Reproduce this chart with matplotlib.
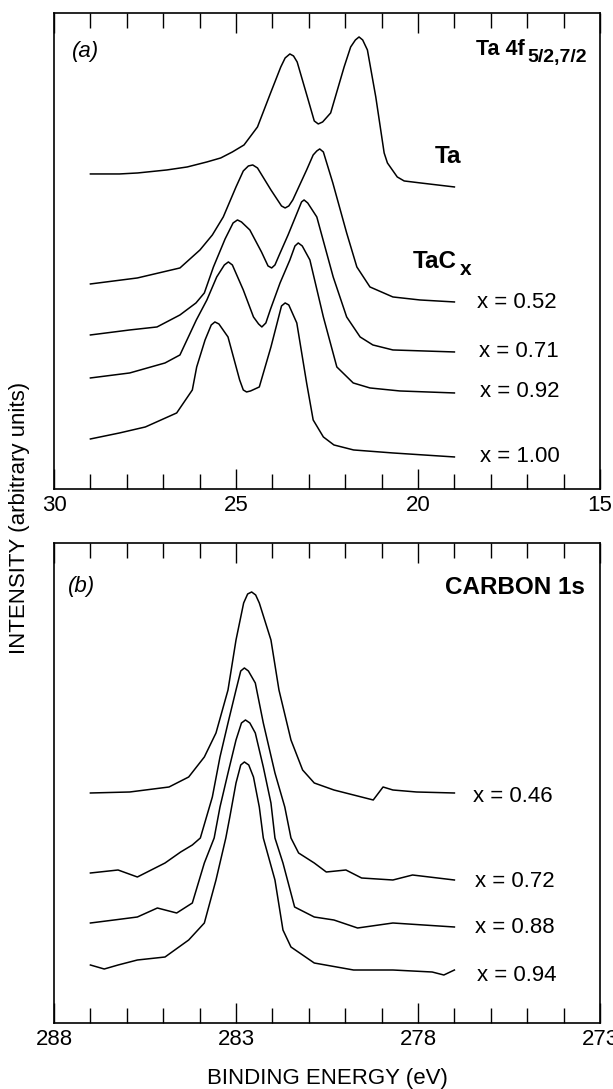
import matplotlib
matplotlib.use("Agg")
import matplotlib.pyplot as plt
from matplotlib.ticker import FixedLocator, MultipleLocator

plt.rcParams["font.family"] = ["Liberation Sans", "DejaVu Sans"]

# ── (a) Ta 4f : binding energy (eV) / intensity (arb.) ──────────────────
TA_E = [29.0, 28.2, 27.7, 26.9, 26.34, 25.8, 25.42, 25.1, 24.78, 24.41, 24.05,
        23.77, 23.65, 23.52, 23.42, 23.32, 23.04, 22.85, 22.74, 22.62, 22.40,
        22.03, 21.85, 21.72, 21.62, 21.52, 21.39, 21.16, 20.93, 20.84, 20.57,
        20.38, 19.93, 19.0]
TA_I = [315, 315, 316, 319, 322, 327, 331, 337, 344, 362, 396,
        422, 431, 435, 433, 427, 392, 368, 365, 367, 376,
        422, 442, 449, 452, 449, 439, 392, 336, 326, 312,
        308, 306, 302]

X052_E = [29.0, 27.71, 26.54, 25.99, 25.65, 25.35, 25.0, 24.8, 24.66, 24.54,
          24.41, 24.04, 23.75, 23.65, 23.55, 23.44, 23.06, 22.88, 22.78, 22.7,
          22.6, 22.34, 21.96, 21.68, 21.32, 20.69, 19.95, 19.0]
X052_I = [205, 211, 221, 239, 254, 272, 302, 318, 323, 324,
          321, 299, 283, 281, 283, 289, 319, 334, 338, 340,
          337, 306, 256, 222, 202, 192, 189, 187]

X071_E = [29.0, 27.92, 27.17, 26.54, 26.1, 25.87, 25.62, 25.3, 25.08, 24.96,
          24.85, 24.62, 24.3, 24.12, 24.02, 23.93, 23.8, 23.57, 23.3, 23.2,
          23.13, 23.03, 22.78, 22.33, 21.96, 21.59, 21.24, 20.69, 19.0]
X071_I = [154, 159, 162, 174, 186, 196, 222, 250, 266, 269,
          267, 259, 237, 223, 221, 224, 235, 254, 278, 287,
          289, 286, 272, 212, 172, 152, 144, 139, 137]

X092_E = [29.0, 27.92, 26.95, 26.54, 26.09, 25.8, 25.53, 25.32, 25.21, 25.1,
          24.8, 24.52, 24.38, 24.29, 24.18, 24.05, 23.79, 23.52, 23.38, 23.29,
          23.18, 22.97, 22.6, 22.23, 21.78, 21.32, 20.5, 19.0]
X092_I = [111, 116, 126, 134, 169, 189, 212, 224, 227, 224,
          199, 172, 165, 162, 166, 180, 206, 229, 243, 246,
          243, 229, 172, 122, 106, 101, 98, 96]

X100_E = [29.0, 28.2, 27.49, 26.63, 26.2, 26.08, 25.85, 25.68, 25.58, 25.47,
          25.22, 24.9, 24.8, 24.71, 24.6, 24.36, 24.04, 23.75, 23.65, 23.55,
          23.33, 23.06, 22.88, 22.6, 22.31, 21.77, 20.69, 19.0]
X100_I = [50, 56, 62, 76, 99, 122, 149, 164, 167, 165,
          152, 109, 99, 97, 98, 102, 142, 183, 186, 184,
          166, 106, 69, 52, 44, 39, 36, 32]

TOP_CURVES = [(TA_E, TA_I), (X052_E, X052_I), (X071_E, X071_I),
              (X092_E, X092_I), (X100_E, X100_I)]
TOP_X_LABELS = ["x = 0.52", "x = 0.71", "x = 0.92", "x = 1.00"]
TOP_MAJOR = [30, 25, 20, 15]

# ── (b) C 1s ─────────────────────────────────────────────────────────────
C046_E = [287.0, 285.92, 284.84, 284.30, 283.87, 283.55, 283.22, 283.0, 282.79,
          282.68, 282.57, 282.46, 282.36, 282.04, 281.82, 281.49, 281.17,
          280.85, 280.31, 279.23, 278.96, 278.69, 278.04, 277.0]
C046_I = [230, 231, 236, 246, 266, 290, 333, 383, 420,
          429, 431, 428, 420, 383, 333, 283, 253,
          240, 233, 223, 236, 233, 231, 230]

C072_E = [287.0, 286.24, 285.71, 284.95, 284.52, 284.20, 283.98, 283.65, 283.44,
          283.22, 283.0, 282.87, 282.77, 282.66, 282.47, 282.25, 281.93, 281.66,
          281.49, 281.28, 280.85, 280.52, 279.98, 279.55, 278.69, 278.15, 277.0]
C072_I = [150, 153, 146, 160, 171, 178, 185, 226, 266,
          300, 333, 352, 355, 352, 340, 300, 250, 216,
          185, 170, 160, 151, 153, 145, 143, 148, 143]

C088_E = [287.0, 286.35, 285.71, 285.16, 284.63, 284.20, 283.87, 283.60, 283.44,
          283.22, 283.0, 282.85, 282.74, 282.62, 282.47, 282.25, 282.04, 281.93,
          281.71, 281.39, 280.85, 280.31, 279.66, 278.69, 277.0]
C088_I = [100, 103, 106, 115, 110, 120, 160, 185, 216,
          250, 283, 300, 303, 300, 290, 256, 220, 185,
          160, 116, 106, 103, 95, 100, 96]

C094_E = [287.0, 286.62, 286.24, 285.71, 284.95, 284.30, 283.87, 283.55, 283.28,
          283.17, 283.0, 282.87, 282.77, 282.65, 282.52, 282.36, 282.25, 281.93,
          281.71, 281.49, 280.85, 279.77, 278.69, 277.61, 277.29, 277.0]
C094_I = [58, 54, 58, 63, 66, 83, 100, 143, 185,
          206, 240, 258, 261, 258, 246, 216, 185, 143,
          93, 76, 60, 53, 53, 51, 48, 53]

BOT_CURVES = [(C046_E, C046_I), (C072_E, C072_I), (C088_E, C088_I),
              (C094_E, C094_I)]
BOT_X_LABELS = ["x = 0.46", "x = 0.72", "x = 0.88", "x = 0.94"]
BOT_MAJOR = [288, 283, 278, 273]

FS = 16


def style_axis(ax, xlim, ylim, majors):
    ax.set_xlim(*xlim)
    ax.set_ylim(*ylim)
    ax.xaxis.set_major_locator(FixedLocator(majors))
    ax.xaxis.set_minor_locator(MultipleLocator(1))
    ax.set_yticks([])
    ax.tick_params(axis="x", which="both", direction="in", top=True,
                   bottom=True, width=1.0, labelsize=FS, pad=4)
    ax.tick_params(axis="x", which="major", length=14.5)
    ax.tick_params(axis="x", which="minor", length=10.5)
    for s in ax.spines.values():
        s.set_linewidth(1.2)


fig = plt.figure(figsize=(6.13, 10.89), dpi=100)

# ── パネル (a)
ax1 = fig.add_axes([0.0881, 0.5510, 0.8907, 0.4371])
for e, i in TOP_CURVES:
    ax1.plot(e, i, color="black", lw=1.1)
style_axis(ax1, (30, 15), (0, 476), TOP_MAJOR)

ax1.text(0.057, 0.920, "(a)", transform=ax1.transAxes, fontsize=FS,
         style="italic", ha="center", va="center")
ax1.text(0.8626, 0.912, "Ta 4f", transform=ax1.transAxes, fontsize=15.5,
         fontweight="bold", ha="right", va="baseline")
ax1.text(0.8663, 0.897, "5/2,7/2", transform=ax1.transAxes, fontsize=14,
         fontweight="bold", ha="left", va="baseline")
ax1.text(0.6978, 0.6849, "Ta", transform=ax1.transAxes, fontsize=17.5,
         fontweight="bold", ha="left", va="baseline")
ax1.text(0.6575, 0.4643, "TaC", transform=ax1.transAxes, fontsize=17.5,
         fontweight="bold", ha="left", va="baseline")
ax1.text(0.7436, 0.4496, "x", transform=ax1.transAxes, fontsize=15,
         fontweight="bold", ha="left", va="baseline")

top_lab_pos = [(0.7747, 0.3803), (0.7784, 0.2773), (0.7802, 0.1933),
               (0.7802, 0.0567)]
for (x, y), lab in zip(top_lab_pos, TOP_X_LABELS):
    ax1.text(x, y, lab, transform=ax1.transAxes, fontsize=FS,
             ha="left", va="baseline")

# ── パネル (b)
ax2 = fig.add_axes([0.0881, 0.0606, 0.8907, 0.4408])
for e, i in BOT_CURVES:
    ax2.plot(e, i, color="black", lw=1.1)
style_axis(ax2, (288, 273), (0, 480), BOT_MAJOR)

ax2.text(0.051, 0.910, "(b)", transform=ax2.transAxes, fontsize=FS,
         style="italic", ha="center", va="center")
ax2.text(0.973, 0.893, "CARBON 1s", transform=ax2.transAxes, fontsize=17.5,
         fontweight="bold", ha="right", va="baseline")

bot_lab_pos = [(0.7674, 0.4604), (0.7711, 0.2833), (0.7711, 0.1875),
               (0.7747, 0.0875)]
for (x, y), lab in zip(bot_lab_pos, BOT_X_LABELS):
    ax2.text(x, y, lab, transform=ax2.transAxes, fontsize=FS,
             ha="left", va="baseline")

ax2.set_xlabel("BINDING ENERGY (eV)", fontsize=FS, labelpad=13)
fig.text(0.031, 1 - 518 / 1089, "INTENSITY (arbitrary units)", fontsize=FS,
         rotation=90, ha="center", va="center")

fig.savefig("out.png", dpi=100)
